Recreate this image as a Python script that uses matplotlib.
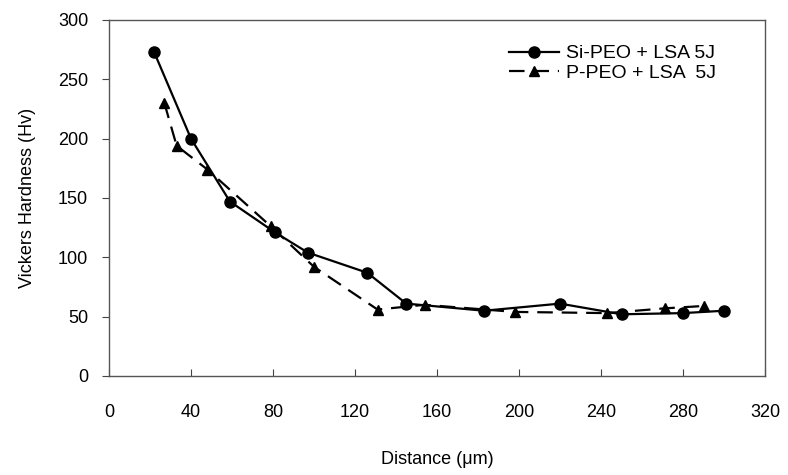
import matplotlib
matplotlib.use("Agg")
import matplotlib.pyplot as plt

si_x = [22, 40, 59, 81, 97, 126, 145, 183, 220, 250, 280, 300]
si_y = [273, 200, 147, 121, 104, 87, 61, 55, 61, 52, 53, 55]
p_x = [27, 33, 48, 79, 100, 131, 154, 198, 243, 271, 290]
p_y = [230, 194, 174, 126, 92, 56, 60, 54, 53, 57, 59]
x_ticks = [0, 40, 80, 120, 160, 200, 240, 280, 320]
y_ticks = [0, 50, 100, 150, 200, 250, 300]

plt.rcParams['font.family'] = ['Liberation Sans', 'DejaVu Sans']

fig = plt.figure(figsize=(7.88, 4.75), dpi=100)
ax = fig.add_axes([109/788, 1-376/475, (765-109)/788, (376-20)/475])

ax.plot(si_x, si_y, '-', color='black', lw=1.6, marker='o', ms=8,
        label='Si-PEO + LSA 5J')
ax.plot(p_x, p_y, color='black', lw=1.6, marker='^', ms=7,
        dashes=(7, 4), label='P-PEO + LSA  5J')

ax.set_xlim(0, 320)
ax.set_ylim(0, 300)
ax.set_xticks(x_ticks)
ax.set_yticks(y_ticks)
ax.tick_params(axis='x', direction='in', length=5, labelsize=13, pad=20, color='#444444')
ax.tick_params(axis='y', direction='out', length=5, labelsize=13, pad=10, color='#444444')
for s in ax.spines.values():
    s.set_color('#555555')
    s.set_linewidth(1.0)

ax.set_xlabel('Distance (\u03bcm)', fontsize=13, labelpad=22)
ax.set_ylabel('Vickers Hardness (Hv)', fontsize=13, labelpad=16)

leg = ax.legend(loc='upper right', frameon=False, fontsize=14,
                handlelength=2.6, handletextpad=0.35, labelspacing=0.1,
                borderpad=0.2, borderaxespad=0.0,
                bbox_to_anchor=((720-109)/656, (376-41)/356))

fig.savefig('out.png', dpi=100)
